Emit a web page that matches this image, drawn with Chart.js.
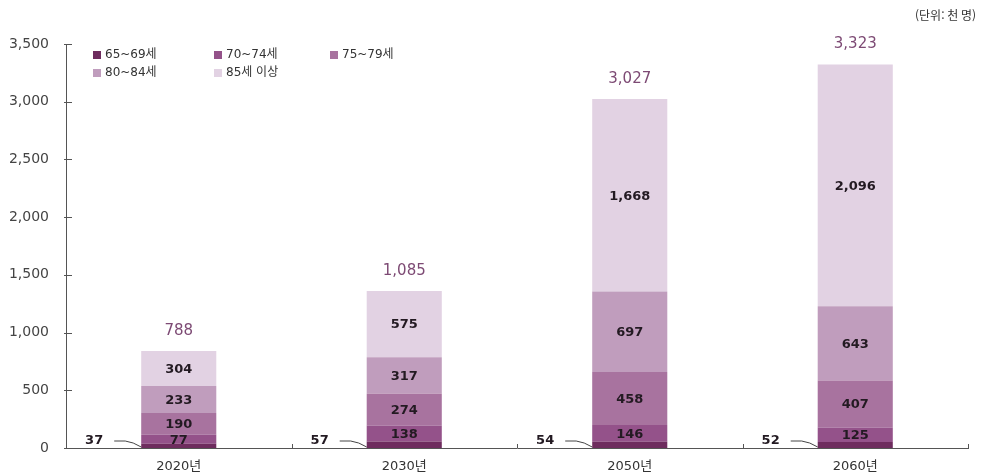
<!DOCTYPE html>
<html lang="ko">
<head>
<meta charset="utf-8">
<title>연령대별 고령인구</title>
<script src="https://cdn.jsdelivr.net/npm/chart.js@4"></script>
<style>
  html, body { margin: 0; padding: 0; background: #ffffff; }
  #wrap { width: 983px; height: 473px; position: relative; }
</style>
</head>
<body>
<div id="wrap"><canvas id="c" width="983" height="473"></canvas></div>
<script>
// 연도별 연령대 인구 (단위: 천 명)
const categories = ['2020년', '2030년', '2050년', '2060년'];
const age65to69 = [37, 57, 54, 52];
const age70to74 = [77, 138, 146, 125];
const age75to79 = [190, 274, 458, 407];
const age80to84 = [233, 317, 697, 643];
const age85plus = [304, 575, 1668, 2096];
const totalLabels = [788, 1085, 3027, 3323];
const seriesNames = ['65~69세', '70~74세', '75~79세', '80~84세', '85세 이상'];
const yMax = 3500;
const yStep = 500;

const colors = ['#6e2c5e', '#94528a', '#a8739f', '#c09dbd', '#e2d2e3'];
const FONT = '"DejaVu Sans", "Noto Sans CJK KR", sans-serif';
const fmt = v => v.toLocaleString('en-US');

const seriesValues = [age65to69, age70to74, age75to79, age80to84, age85plus];

const overlay = {
  id: 'overlay',
  afterDatasetsDraw(chart) {
    const ctx = chart.ctx;
    const area = chart.chartArea;
    const ys = chart.scales.y;
    ctx.save();

    // segment values inside bars (all but the bottom series)
    ctx.font = 'bold 13px ' + FONT;
    ctx.fillStyle = '#231a22';
    ctx.textAlign = 'center';
    ctx.textBaseline = 'middle';
    for (let d = 1; d < chart.data.datasets.length; d++) {
      const meta = chart.getDatasetMeta(d);
      meta.data.forEach((el, i) => {
        const v = chart.data.datasets[d].data[i];
        ctx.fillText(fmt(v), el.x, (el.y + el.base) / 2 + 1);
      });
    }

    // bottom series value placed to the left with a leader line
    const m0 = chart.getDatasetMeta(0);
    m0.data.forEach((el, i) => {
      const left = el.x - el.width / 2;
      const ty = area.bottom - 7;
      ctx.textAlign = 'right';
      ctx.fillStyle = '#231a22';
      ctx.fillText(fmt(chart.data.datasets[0].data[i]), left - 38, ty);
      ctx.strokeStyle = '#444';
      ctx.lineWidth = 1;
      ctx.beginPath();
      ctx.moveTo(left - 27, ty);
      ctx.lineTo(left - 16, ty);
      ctx.quadraticCurveTo(left - 8, ty + 1, left, area.bottom - 1);
      ctx.stroke();
    });

    // totals above each stack
    const topMeta = chart.getDatasetMeta(chart.data.datasets.length - 1);
    ctx.font = '15px ' + FONT;
    ctx.fillStyle = '#7d4a74';
    ctx.textAlign = 'center';
    topMeta.data.forEach((el, i) => {
      ctx.fillText(fmt(totalLabels[i]), el.x, el.y - 20);
    });

    ctx.strokeStyle = '#555';
    ctx.lineWidth = 1;

    // value-axis ticks, reaching into the plot
    ys.ticks.forEach(t => {
      const y = Math.round(ys.getPixelForValue(t.value)) + 0.5;
      ctx.beginPath();
      ctx.moveTo(area.left - 2, y);
      ctx.lineTo(area.left + 6, y);
      ctx.stroke();
    });

    // small ticks on the category axis at category boundaries
    const n = categories.length;
    const step = (area.right - area.left) / n;
    for (let i = 1; i <= n; i++) {
      const x = Math.round(area.left + step * i) + 0.5;
      ctx.beginPath();
      ctx.moveTo(x, area.bottom);
      ctx.lineTo(x, area.bottom - 4);
      ctx.stroke();
    }

    // legend: three columns, two rows
    const cols = [93, 214, 330];
    const rows = [55, 73];
    ctx.font = '12px ' + FONT;
    ctx.textAlign = 'left';
    ctx.textBaseline = 'middle';
    chart.data.datasets.forEach((ds, k) => {
      const cx = cols[k % 3];
      const cy = rows[Math.floor(k / 3)];
      ctx.fillStyle = ds.backgroundColor;
      ctx.fillRect(cx, cy - 4, 8, 8);
      ctx.fillStyle = '#333';
      ctx.fillText(ds.label, cx + 12, cy);
    });

    // unit note
    ctx.font = '12px "Noto Sans CJK KR", sans-serif';
    ctx.fillStyle = '#333';
    ctx.textAlign = 'right';
    ctx.fillText('(단위: 천 명)', 976, 15);

    ctx.restore();
  }
};

new Chart(document.getElementById('c'), {
  type: 'bar',
  data: {
    labels: categories,
    datasets: seriesValues.map((vals, k) => ({
      label: seriesNames[k],
      data: vals,
      backgroundColor: colors[k],
      borderWidth: 0,
      barPercentage: 1,
      categoryPercentage: 0.333
    }))
  },
  options: {
    responsive: false,
    animation: false,
    devicePixelRatio: 1,
    layout: { padding: { top: 44, right: 15, left: 0, bottom: 0 } },
    plugins: {
      legend: { display: false },
      tooltip: { enabled: false }
    },
    scales: {
      x: {
        stacked: true,
        grid: { display: false },
        border: { display: true, color: '#555', width: 1 },
        ticks: { color: '#333', font: { family: FONT, size: 13 }, padding: 3 },
        afterFit(s) { s.height = 25; }
      },
      y: {
        stacked: true,
        min: 0,
        max: yMax,
        ticks: {
          stepSize: yStep,
          color: '#444',
          font: { family: FONT, size: 14 },
          padding: 9,
          callback: v => fmt(v)
        },
        grid: { display: false },
        border: { display: true, color: '#555', width: 1 },
        afterFit(s) { s.width = 66; }
      }
    }
  },
  plugins: [overlay]
});
</script>
</body>
</html>
